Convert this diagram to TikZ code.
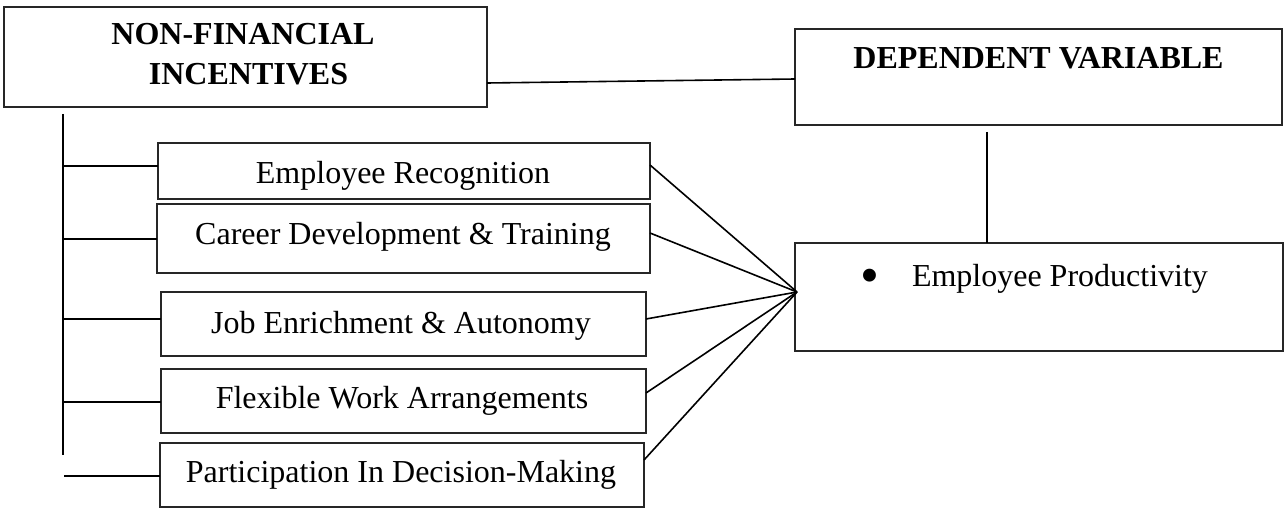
\documentclass[tikz,border=0pt]{standalone}
\usepackage{fontspec}
\setmainfont{Liberation Serif}
\begin{document}
\begin{tikzpicture}[x=1pt,y=-1pt,
  box/.style={draw=black!85, line width=1.4pt, inner sep=0pt, outer sep=0pt},
  txt/.style={inner sep=0pt, outer sep=0pt, anchor=base, font=\fontsize{32}{38}\selectfont},
  htxt/.style={txt, font=\fontsize{32}{38}\selectfont\bfseries},
  conn/.style={line width=1.6pt, black}]
\useasboundingbox (0,0) rectangle (1284,508);

% boxes
\node[box, minimum width=483pt, minimum height=100pt] (nf) at (245.5,57) {};
\node[box, minimum width=487pt, minimum height=96pt] (dv) at (1038.5,77) {};
\node[box, minimum width=488pt, minimum height=108pt] (ep) at (1039,297) {};
\node[box, minimum width=492pt, minimum height=56pt] (er) at (404,171) {};
\node[box, minimum width=493pt, minimum height=69pt] (cd) at (403.5,238.5) {};
\node[box, minimum width=485pt, minimum height=64pt] (je) at (403.5,324) {};
\node[box, minimum width=485pt, minimum height=64pt] (fw) at (403.5,401) {};
\node[box, minimum width=484pt, minimum height=64pt] (pd) at (402,475) {};

% texts
\node[htxt] (nft1) at (243,45) {NON-FINANCIAL};
\node[htxt] (nft2) at (248.5,85) {INCENTIVES};
\node[htxt] (dvt) at (1038.5,69) {DEPENDENT VARIABLE};
\node[txt, anchor=base west] (ept) at (860.5,286) {{\fontsize{54}{54}\selectfont\raisebox{-7.9pt}{\textbullet}}\hspace{32.6pt}Employee Productivity};
\node[txt] (ert) at (403,183) {Employee Recognition};
\node[txt] (cdt) at (403,244) {Career Development \& Training};
\node[txt] (jet) at (401,333) {Job Enrichment \& Autonomy};
\node[txt] (fwt) at (402,408) {Flexible Work Arrangements};
\node[txt] (pdt) at (401,482) {Participation In Decision-Making};

% top connectors
\draw[conn] ([yshift=-26pt]nf.east) -- ([yshift=-2pt]dv.west);
\coordinate (vtop) at (987,132);
\draw[conn] (vtop) -- (vtop |- ep.north);

% converging connectors
\coordinate (hub) at (797,292);
\draw[conn] ([yshift=6pt]er.east) -- (hub);
\draw[conn] ([yshift=5.5pt]cd.east) -- (hub);
\draw[conn] ([yshift=5pt]je.east) -- (hub);
\draw[conn] ([yshift=8pt]fw.east) -- (hub);
\draw[conn] ([yshift=15pt]pd.east) -- (hub);

% left trunk and branches
\coordinate (ttop) at (63,114);
\coordinate (tbot) at (63,455);
\draw[conn] (ttop) -- (tbot);
\coordinate (b1) at (63,166);
\coordinate (b2) at (63,239);
\coordinate (b3) at (63,319);
\coordinate (b4) at (63,402);
\coordinate (b5) at (64,476);
\draw[conn] (b1) -- (b1 -| er.west);
\draw[conn] (b2) -- (b2 -| cd.west);
\draw[conn] (b3) -- (b3 -| je.west);
\draw[conn] (b4) -- (b4 -| fw.west);
\draw[conn] (b5) -- (b5 -| pd.west);
\end{tikzpicture}
\end{document}
